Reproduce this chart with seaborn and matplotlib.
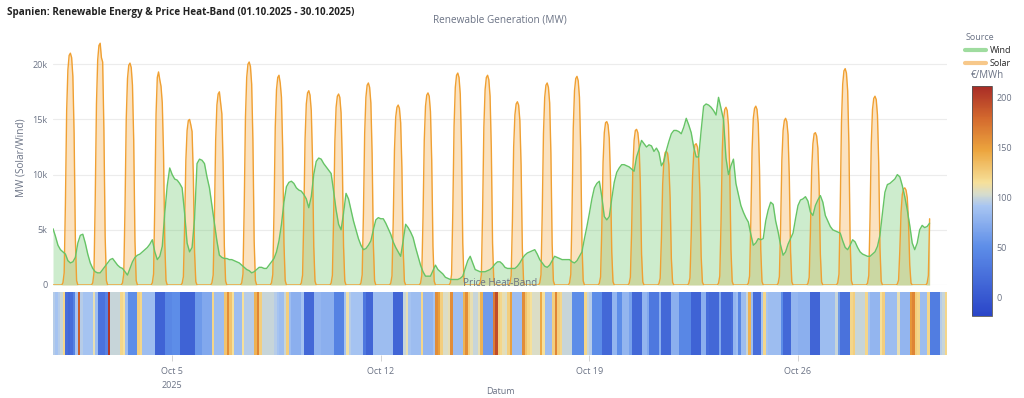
import numpy as np
import pandas as pd
import matplotlib
matplotlib.use("Agg")
import matplotlib.pyplot as plt
import seaborn as sns
from matplotlib.colors import LinearSegmentedColormap
from matplotlib.lines import Line2D
from matplotlib.ticker import FuncFormatter

#%% DATEN (Okt 2025, Spanien)

n_days = 30
last_hour = 29 * 24 + 10        # Erzeugungsdaten enden am 30.10. ~10 Uhr

# Solar (MW), stündlich 08..19 Uhr, nachts 0
solar_hours = list(range(8, 20))
solar_mw = [
    [200, 1100, 7400, 15800, 19500, 20800, 21000, 20600, 18900, 13700, 4200, 400],
    [200, 1100, 7700, 16400, 20400, 21700, 21900, 20600, 20200, 14000, 4400, 400],
    [200, 1000, 7000, 15100, 18700, 19900, 20100, 19700, 18100, 13100, 4000, 400],
    [200, 1000, 7500, 15500, 18800, 19300, 18600, 18000, 16500, 12000, 3900, 400],
    [150, 750, 5300, 11300, 14000, 14900, 15000, 14500, 13900, 10000, 3000, 300],
    [200, 900, 6100, 13100, 16300, 17300, 17500, 16500, 15500, 11000, 3500, 350],
    [200, 1000, 7100, 15200, 18800, 20000, 20200, 19800, 18200, 13100, 4000, 400],
    [200, 950, 6700, 14300, 17700, 18800, 19000, 18300, 17000, 12300, 3800, 400],
    [180, 900, 6200, 13200, 16400, 17400, 17600, 17200, 15800, 11400, 3500, 350],
    [170, 870, 6100, 13000, 16100, 17100, 17300, 17000, 15600, 11200, 3500, 350],
    [180, 920, 6400, 13700, 17000, 18100, 18300, 17900, 16500, 11900, 3700, 370],
    [160, 820, 5700, 12200, 15200, 16100, 16300, 16000, 14700, 10600, 3300, 330],
    [170, 870, 6100, 13100, 16200, 17200, 17400, 17100, 15700, 11300, 3500, 350],
    [190, 960, 6700, 14400, 17900, 19000, 19200, 18800, 17300, 12500, 3800, 380],
    [190, 950, 6700, 14300, 17700, 18800, 19000, 18600, 17100, 12400, 3800, 380],
    [170, 830, 5800, 12500, 15400, 16400, 16600, 16300, 14900, 10800, 3300, 330],
    [180, 920, 6400, 13700, 17000, 18100, 18300, 17900, 16500, 11900, 3700, 370],
    [190, 950, 6600, 14200, 17600, 18700, 18900, 18500, 17000, 12300, 3800, 380],
    [150, 740, 5200, 11100, 13800, 14700, 14800, 14500, 13300, 9600, 3000, 300],
    [140, 710, 4900, 10600, 13100, 14000, 14100, 13800, 12700, 9200, 2800, 280],
    [120, 610, 4200, 9100, 11300, 12000, 12100, 11900, 10900, 7900, 2400, 240],
    [130, 640, 4500, 9600, 11900, 12700, 12800, 12500, 11500, 8300, 2600, 260],
    [160, 810, 5600, 12100, 15000, 15900, 16100, 15800, 14500, 10500, 3200, 320],
    [160, 810, 5700, 12200, 15100, 16000, 16200, 15900, 14600, 10500, 3200, 320],
    [150, 760, 5300, 11300, 14000, 14900, 15100, 14800, 13600, 9800, 3000, 300],
    [140, 690, 4800, 10400, 12800, 13700, 13800, 13500, 12400, 9000, 2800, 280],
    [200, 980, 6900, 14700, 18200, 19400, 19600, 19200, 17600, 12700, 3900, 390],
    [170, 860, 6000, 12800, 15900, 16900, 17100, 16800, 15400, 11100, 3400, 340],
    [90, 440, 3100, 6600, 8200, 8700, 8800, 8600, 7900, 5700, 1800, 180],
    [170, 860, 6000],
]

# Wind (MW), alle 2 Stunden 00..22 Uhr
wind_hours = list(range(0, 24, 2))
wind_mw = [
    [5100, 4400, 3600, 3200, 3000, 2800, 2200, 2000, 2100, 2500, 3800, 4500],
    [4600, 3800, 2800, 2000, 1500, 1200, 1100, 1100, 1400, 1700, 2000, 2300],
    [2400, 2100, 1800, 1600, 1500, 1200, 900, 1500, 2100, 2500, 2700, 2800],
    [3000, 3200, 3400, 3700, 4100, 3000, 2300, 2600, 3500, 6500, 9000, 10600],
    [10000, 9600, 9500, 9200, 8800, 6500, 3800, 3000, 3400, 6000, 11000, 11400],
    [11300, 11000, 9800, 8800, 7200, 5600, 4000, 2700, 2500, 2400, 2400, 2300],
    [2300, 2200, 2100, 2000, 1800, 1600, 1400, 1300, 1100, 1200, 1400, 1600],
    [1600, 1500, 1500, 1800, 2100, 2400, 3000, 4000, 5500, 7500, 8900, 9300],
    [9400, 9200, 8800, 8600, 8500, 8200, 7800, 7000, 8000, 10000, 11200, 11500],
    [11400, 11000, 10700, 10400, 10100, 8500, 6800, 5500, 5000, 6500, 8300, 7800],
    [6800, 5800, 5000, 4200, 3600, 3200, 3300, 3600, 4000, 5000, 5900, 6100],
    [6000, 6000, 5600, 5100, 4600, 3900, 3400, 3000, 2600, 4000, 5500, 5200],
    [4800, 4300, 3400, 2600, 1800, 1200, 800, 800, 800, 1300, 1800, 1400],
    [1200, 1000, 700, 600, 500, 500, 500, 500, 600, 800, 1500, 2200],
    [2600, 2000, 1400, 1300, 1200, 1200, 1200, 1300, 1400, 1600, 1900, 2100],
    [2100, 1900, 1600, 1500, 1500, 1500, 1500, 1700, 2000, 2400, 2700, 2900],
    [3000, 3100, 3200, 2800, 2300, 2000, 1700, 1600, 1800, 2200, 2600, 2500],
    [2400, 2300, 2300, 2300, 2300, 2100, 2000, 2200, 2600, 3000, 4200, 5300],
    [6500, 7800, 8800, 9200, 9400, 8000, 6200, 5900, 6200, 7800, 9300, 10200],
    [10600, 10900, 10900, 10800, 10700, 10500, 10300, 11600, 12300, 13100, 12800, 12500],
    [12700, 12600, 12100, 12400, 12000, 10800, 11200, 12200, 13000, 13700, 14000, 14000],
    [13900, 13700, 14300, 15100, 14500, 13800, 12500, 11600, 11600, 14000, 16200, 16400],
    [16300, 16100, 15800, 15400, 17000, 16000, 15000, 11500, 10000, 10800, 11400, 9200],
    [8200, 7200, 6600, 6100, 5700, 4600, 3600, 3800, 4200, 4100, 4200, 5800],
    [6800, 7500, 7300, 5800, 4800, 3600, 2700, 3000, 3700, 4200, 4700, 6000],
    [7200, 7700, 7800, 8000, 7600, 6600, 6300, 7200, 7700, 8100, 7500, 6300],
    [5800, 5300, 5000, 4900, 4800, 4700, 4000, 3400, 3200, 3600, 4100, 3900],
    [3400, 3000, 2800, 2700, 2600, 2600, 2800, 3000, 3500, 4500, 6500, 8400],
    [9100, 9200, 9400, 9600, 10000, 9800, 9000, 8000, 6800, 5400, 3800, 3200],
    [3800, 5000, 5400, 5200, 5300, 5600],
]

# Day-Ahead Preis (€/MWh), 2-Stunden-Blöcke 00..22 Uhr
price_eur = [
    [95, 90, 95, 100, 120, 20, 15, 20, 40, 90, 185, 95],
    [90, 90, 90, 90, 110, 85, 25, 25, 25, 40, 205, 100],
    [100, 100, 100, 120, 115, 85, 50, 50, 50, 50, 125, 120],
    [85, 85, 85, 85, 85, 10, 10, 10, 10, 45, 45, 45],
    [50, 50, 50, 10, 10, 10, 10, 10, 10, 60, 60, 60],
    [70, 70, 70, 70, 120, 85, 85, 85, 85, 130, 160, 130],
    [115, 85, 85, 85, 115, 95, 95, 95, 95, 140, 165, 125],
    [100, 100, 100, 100, 100, 95, 90, 85, 85, 100, 125, 85],
    [75, 75, 75, 75, 90, 15, 15, 15, 15, 80, 80, 80],
    [75, 75, 75, 75, 75, 40, 40, 40, 40, 90, 112, 95],
    [90, 90, 90, 90, 90, 30, 12, 12, 12, 85, 85, 85],
    [85, 85, 85, 85, 85, 12, 12, 12, 12, 100, 110, 90],
    [85, 85, 85, 85, 120, 80, 80, 80, 80, 90, 160, 150],
    [125, 105, 105, 110, 160, 85, 85, 85, 85, 140, 160, 125],
    [110, 100, 100, 110, 140, 60, 60, 60, 60, 170, 195, 125],
    [120, 110, 105, 125, 150, 85, 85, 85, 85, 160, 130, 120],
    [115, 105, 105, 105, 145, 115, 85, 85, 85, 125, 165, 125],
    [120, 100, 100, 100, 100, 50, 50, 50, 50, 50, 120, 100],
    [95, 50, 50, 50, 50, 15, 15, 15, 15, 80, 80, 50],
    [50, 80, 80, 80, 65, 15, 15, 15, 15, 80, 80, 70],
    [30, 30, 30, 30, 75, 15, 15, 15, 15, 75, 75, 75],
    [45, 45, 45, 45, 45, 10, 10, 10, 10, 75, 75, 20],
    [15, 15, 15, 15, 70, 15, 15, 15, 15, 20, 80, 85],
    [45, 85, 85, 100, 140, 85, 20, 20, 20, 90, 120, 90],
    [85, 85, 85, 85, 85, 50, 15, 15, 15, 80, 80, 80],
    [75, 75, 75, 75, 75, 12, 12, 12, 12, 85, 85, 85],
    [85, 85, 85, 100, 60, 25, 25, 25, 25, 120, 125, 100],
    [100, 100, 100, 120, 90, 80, 80, 80, 80, 115, 125, 85],
    [85, 85, 85, 85, 110, 80, 80, 80, 80, 155, 165, 125],
    [120, 85, 85, 85, 120, 35, 35, 35, 35, 95, 100, 120],
]

tick_days = [4, 11, 18, 25]
tick_labels = ["Oct 5\n2025", "Oct 12", "Oct 19", "Oct 26"]

#%% TABELLEN (lange Form, Stunde seit 01.10. 00:00)

rows = []
for d in range(n_days):
    vals = dict(zip(solar_hours, solar_mw[d]))
    for h in range(24):
        t = d * 24 + h
        if t > last_hour:
            break
        rows.append({"t": t, "mw": vals.get(h, 0)})
df_solar = pd.DataFrame(rows)

rows = []
for d in range(n_days):
    for h, v in zip(wind_hours, wind_mw[d]):
        rows.append({"t": d * 24 + h, "mw": v})
df_wind = pd.DataFrame(rows)

price_band = np.array(price_eur, dtype=float).reshape(1, -1)
blocks_per_day = len(price_eur[0])

#%% GRAFIK

sns.set_theme(style="white")
plt.rcParams["font.family"] = ["Open Sans", "DejaVu Sans"]

GREY = "#6b7385"
WIND = "#66c466"
SOLAR = "#f0a032"

fig = plt.figure(figsize=(10.24, 3.98), dpi=100)
L, R = 53 / 1024, 947 / 1024
ax = fig.add_axes([L, 1 - 285 / 398, R - L, 255 / 398])
ax_band = fig.add_axes([L, 1 - 355 / 398, R - L, 63 / 398])
cax = fig.add_axes([972 / 1024, 1 - 316 / 398, 20 / 1024, 230 / 398])

# Solar zuerst, Wind darüber
ax.fill_between(df_solar["t"], df_solar["mw"], color="#f5a940", alpha=0.33, lw=0)
sns.lineplot(data=df_solar, x="t", y="mw", ax=ax, color=SOLAR, lw=1.0)
ax.fill_between(df_wind["t"], df_wind["mw"], color=WIND, alpha=0.32, lw=0)
sns.lineplot(data=df_wind, x="t", y="mw", ax=ax, color=WIND, lw=1.0)

ax.set_xlim(0, n_days * 24)
ax.set_ylim(0, 23100)
ax.set_yticks([0, 5000, 10000, 15000, 20000])
ax.yaxis.set_major_formatter(FuncFormatter(lambda v, p: "0" if v == 0 else f"{int(v / 1000)}k"))
ax.grid(axis="y", color="#ececec", lw=0.8)
ax.set_xticks([])
ax.set_xlabel("")
ax.set_ylabel("MW (Solar/Wind)", color=GREY, fontsize=7.2, labelpad=4)
ax.tick_params(axis="y", labelsize=6.5, colors=GREY, length=0, pad=4)
for s in ax.spines.values():
    s.set_visible(False)

cmap = LinearSegmentedColormap.from_list("price", [
    (0.0, "#2a45c8"), (0.30, "#5d8de8"), (0.48, "#a9c6f2"), (0.53, "#d6dccd"),
    (0.58, "#f6e09a"), (0.72, "#eca53e"), (0.86, "#d46a2e"), (1.0, "#a82b26"),
])

sns.heatmap(price_band, ax=ax_band, cmap=cmap, vmin=-19, vmax=212,
            cbar_ax=cax, xticklabels=False, yticklabels=False)
ax_band.set_xlim(0, price_band.shape[1])
ax_band.set_xticks([d * blocks_per_day for d in tick_days])
ax_band.set_xticklabels(tick_labels, fontsize=6.5, color=GREY, linespacing=1.7)
ax_band.tick_params(axis="x", length=4, width=0.6, color="#cccccc", pad=5, bottom=True)
ax_band.set_yticks([])

cbar = ax_band.collections[0].colorbar
cbar.set_ticks([0, 50, 100, 150, 200])
cbar.ax.tick_params(labelsize=6.5, colors=GREY, length=0, pad=3)
cbar.outline.set_edgecolor("#555555")
cbar.outline.set_linewidth(0.6)

# Texte
fig.text(7 / 1024, 1 - 12 / 398, "Spanien: Renewable Energy & Price Heat-Band (01.10.2025 - 30.10.2025)",
         fontsize=7.1, fontweight="bold", color="#222222", va="center", ha="left")
fig.text(500 / 1024, 1 - 20 / 398, "Renewable Generation (MW)", fontsize=7.2,
         color=GREY, ha="center", va="center")
fig.text(500 / 1024, 1 - 284 / 398, "Price Heat-Band", fontsize=7.1,
         color=GREY, ha="center", va="center")
fig.text(500 / 1024, 1 - 391 / 398, "Datum", fontsize=6.5, color=GREY, ha="center", va="center")
fig.text(966 / 1024, 1 - 38 / 398, "Source", fontsize=6.5, color=GREY, ha="left", va="center")
fig.text(971 / 1024, 1 - 76 / 398, "€/MWh", fontsize=7, color=GREY, ha="left", va="center")

handles = [Line2D([0], [0], color="#9fdc9f", lw=3),
           Line2D([0], [0], color="#f7c88a", lw=3)]
fig.legend(handles, ["Wind", "Solar"], loc="upper left", bbox_to_anchor=(965 / 1024, 1 - 46 / 398),
           frameon=False, fontsize=6.5, handlelength=2.3, handletextpad=0.4,
           labelspacing=0.45, borderaxespad=0, borderpad=0)

fig.savefig("out.png", dpi=100, facecolor="white")
